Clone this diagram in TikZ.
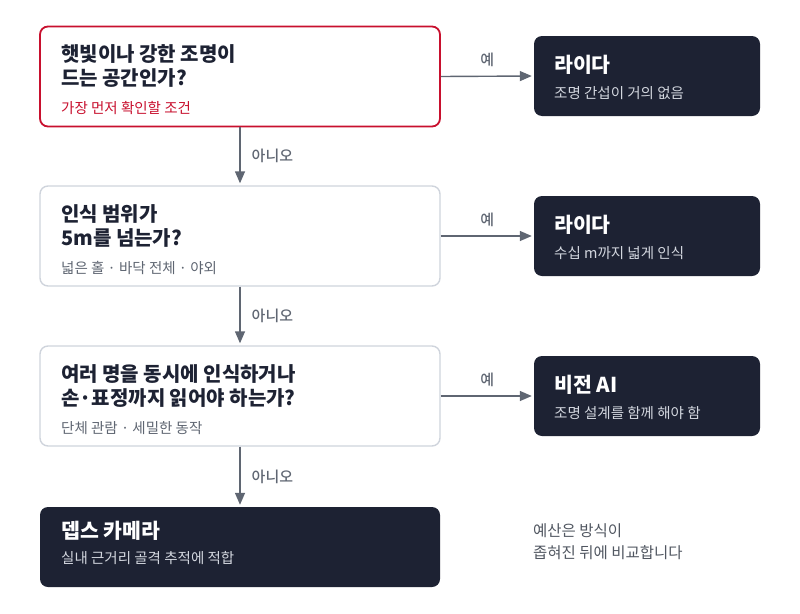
\documentclass[tikz,border=0pt]{standalone}
\usepackage{fontspec}
\setmainfont{Noto Sans CJK KR}
\newfontfamily\krmedium{Noto Sans CJK KR Medium}
\usetikzlibrary{positioning,arrows.meta}
\definecolor{ink}{HTML}{1D2233}
\definecolor{alert}{HTML}{C8102E}
\definecolor{edge}{HTML}{CFD4DC}
\definecolor{mute}{HTML}{5F6672}
\definecolor{pale}{HTML}{D3D7DF}

\begin{document}
\begin{tikzpicture}[x=1pt, y=-1pt,
  qbox/.style={draw=edge, line width=1.4pt, fill=white, rounded corners=8pt, minimum width=400pt, minimum height=100pt, inner sep=0pt},
  abox/.style={fill=ink, rounded corners=8pt, minimum width=226pt, minimum height=80pt, inner sep=0pt},
  qtitle/.style={anchor=base west, inner sep=0pt, text=ink, font=\fontsize{20}{24}\selectfont\bfseries},
  qsub/.style={anchor=base west, inner sep=0pt, text=mute, font=\fontsize{14.5}{17}\selectfont},
  atitle/.style={anchor=base west, inner sep=0pt, text=white, font=\fontsize{20.5}{24}\selectfont\bfseries},
  asub/.style={anchor=base west, inner sep=0pt, text=pale, font=\fontsize{14.5}{17}\selectfont},
  flow/.style={draw=mute, line width=1.4pt, -{Triangle[length=12pt,width=10pt]}, shorten >=2pt},
  tag/.style={text=mute, inner sep=0pt, font=\krmedium\fontsize{15}{18}\selectfont}]
\useasboundingbox (0,0) rectangle (800,613);

\node (q1) [qbox, draw=alert, line width=1.8pt] at (240,76.5) {};
\node (q2) [qbox] at (240,236) {};
\node (q3) [qbox] at (240,396) {};
\node (dense) [abox, minimum width=400pt] at (240,547) {};
\node (lidarA) [abox] at (647,76) {};
\node (lidarB) [abox] at (647,236) {};
\node (vision) [abox] at (647,396) {};

\node (q1a) [qtitle] at (61,61.5) {햇빛이나 강한 조명이};
\node (q1b) [qtitle] at (61,85) {드는 공간인가?};
\node (q1s) [qsub, text=alert] at (61,113) {가장 먼저 확인할 조건};
\node (q2a) [qtitle] at (61,221.5) {인식 범위가};
\node (q2b) [qtitle] at (61,245) {5m를 넘는가?};
\node (q2s) [qsub] at (61,273) {넓은 홀 · 바닥 전체 · 야외};
\node (q3a) [qtitle] at (61,381.5) {여러 명을 동시에 인식하거나};
\node (q3b) [qtitle] at (61,405) {손·표정까지 읽어야 하는가?};
\node (q3s) [qsub] at (61,433) {단체 관람 · 세밀한 동작};
\node (densea) [atitle] at (61,538) {뎁스 카메라};
\node (denses) [asub] at (61,563) {실내 근거리 골격 추적에 적합};

\node (lidarAa) [atitle] at (554,72) {라이다};
\node (lidarAs) [asub] at (554,98) {조명 간섭이 거의 없음};
\node (lidarBa) [atitle] at (554,232) {라이다};
\node (lidarBs) [asub] at (554,258) {수십 m까지 넓게 인식};
\node (visiona) [atitle] at (554,392) {비전 AI};
\node (visions) [asub] at (554,418) {조명 설계를 함께 해야 함};

\node (note) [qsub, align=left, anchor=north west, text=mute!85!black, font=\fontsize{15.5}{21.5}\selectfont] at (533,523.5) {예산은 방식이\\좁혀진 뒤에 비교합니다};

\draw [flow] (q1.east) -- (lidarA.west) node [tag, midway, above=9pt] {예};
\draw [flow] (q2.east) -- (lidarB.west) node [tag, midway, above=9pt] {예};
\draw [flow] (q3.east) -- (vision.west) node [tag, midway, above=9pt] {예};
\draw [flow] (q1.south) -- (q2.north) node [tag, midway, right=11pt] {아니오};
\draw [flow] (q2.south) -- (q3.north) node [tag, midway, right=11pt] {아니오};
\draw [flow] (q3.south) -- (dense.north) node [tag, midway, right=11pt] {아니오};
\end{tikzpicture}
\end{document}
